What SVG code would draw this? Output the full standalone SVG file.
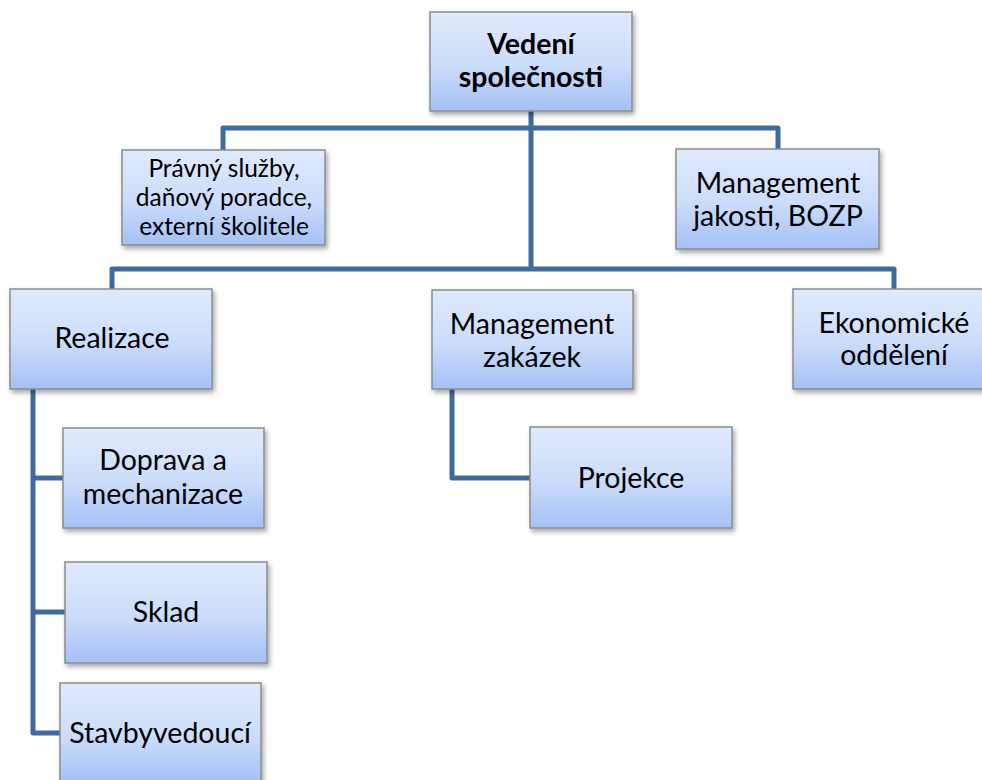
<svg xmlns="http://www.w3.org/2000/svg" width="982" height="780" viewBox="0 0 982 780">
<defs>
<linearGradient id="g" x1="0" y1="0" x2="0" y2="1">
<stop offset="0" stop-color="#e0eafc"/>
<stop offset="0.55" stop-color="#cbdcfa"/>
<stop offset="1" stop-color="#a3c0f6"/>
</linearGradient>
<filter id="sh" x="-10%" y="-10%" width="125%" height="130%">
<feDropShadow dx="2" dy="3" stdDeviation="2.5" flood-color="#000" flood-opacity="0.35"/>
</filter>
</defs>
<style>
.box{fill:url(#g);stroke:#8c8c8c;stroke-width:1.5;filter:url(#sh)}
.t{font-family:Lato,"Noto Sans",sans-serif;font-size:28.5px;fill:#000;text-anchor:middle}
.s{font-size:24.5px}
.b{font-weight:bold}
.c{fill:none;stroke:#3f6a9f;stroke-width:5;stroke-linejoin:round}
</style>
<g id="connectors">
<path class="c" d="M531,111 V269"/>
<path class="c" d="M223,150 V128 H778 V149"/>
<path class="c" d="M112,289 V269 H894 V289"/>
<path class="c" d="M33,389 V733 H60 M33,478 H63 M33,612 H65"/>
<path class="c" d="M452,389 V478 H530"/>
</g>
<g id="n-vedeni"><rect class="box" x="430" y="12" width="202" height="99"/><text class="t b" x="531" y="54">Vedení</text><text class="t b" x="531" y="87">společnosti</text></g>
<g id="n-pravni"><rect class="box" x="122" y="150" width="203" height="95"/><text class="t s" x="224" y="177">Právný služby,</text><text class="t s" x="224" y="206">daňový poradce,</text><text class="t s" x="224" y="235">externí školitele</text></g>
<g id="n-jakost"><rect class="box" x="676" y="149" width="203" height="100"/><text class="t" x="778" y="193">Management</text><text class="t" x="778" y="226">jakosti, BOZP</text></g>
<g id="n-realizace"><rect class="box" x="10" y="289" width="202" height="100"/><text class="t" x="112" y="348">Realizace</text></g>
<g id="n-zakazky"><rect class="box" x="432" y="290" width="201" height="99"/><text class="t" x="532" y="334">Management</text><text class="t" x="532" y="367">zakázek</text></g>
<g id="n-ekonom"><rect class="box" x="793" y="289" width="202" height="100"/><text class="t" x="894" y="333">Ekonomické</text><text class="t" x="894" y="365">oddělení</text></g>
<g id="n-doprava"><rect class="box" x="63" y="428" width="201" height="100"/><text class="t" x="163" y="470">Doprava a</text><text class="t" x="163" y="504">mechanizace</text></g>
<g id="n-sklad"><rect class="box" x="65" y="562" width="202" height="101"/><text class="t" x="166" y="622">Sklad</text></g>
<g id="n-stavby"><rect class="box" x="60" y="683" width="201" height="100"/><text class="t" x="160" y="743">Stavbyvedoucí</text></g>
<g id="n-projekce"><rect class="box" x="530" y="427" width="202" height="101"/><text class="t" x="631" y="488">Projekce</text></g>
</svg>
